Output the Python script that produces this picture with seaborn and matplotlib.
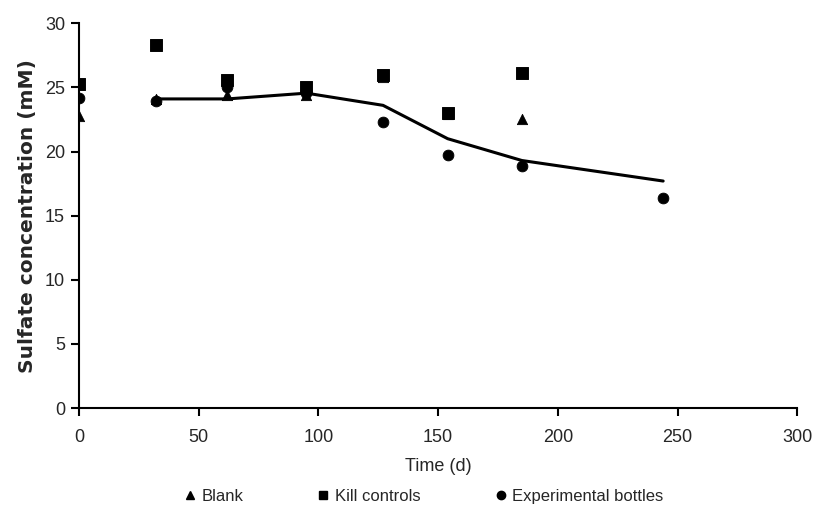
import matplotlib
matplotlib.use("Agg")
import matplotlib.pyplot as plt
import seaborn as sns
import pandas as pd
from matplotlib.lines import Line2D

# Data
blank_x = [0, 32, 62, 95, 127, 154, 185]
blank_y = [22.8, 24.1, 24.4, 24.4, 25.8, 22.9, 22.5]
kill_x = [0, 32, 62, 95, 127, 154, 185]
kill_y = [25.3, 28.3, 25.6, 25.0, 26.0, 23.0, 26.1]
exp_x = [0, 32, 62, 95, 127, 154, 185, 244]
exp_y = [24.2, 23.9, 25.0, 24.6, 22.3, 19.7, 18.9, 16.4]
trend_x = [32, 62, 95, 127, 154, 185, 244]
trend_y = [24.1, 24.1, 24.55, 23.6, 21.0, 19.3, 17.7]

x_ticks = [0, 50, 100, 150, 200, 250, 300]
y_ticks = [0, 5, 10, 15, 20, 25, 30]

sns.set_theme(style="white")
plt.rcParams['font.family'] = ['Liberation Sans Narrow', 'Liberation Sans', 'DejaVu Sans']

fig = plt.figure(figsize=(8.27, 5.16), dpi=100)
ax = fig.add_axes([0.0955, 0.209, 0.8685, 0.746])

sns.lineplot(x=trend_x, y=trend_y, ax=ax, color='black', linewidth=2.2, sort=False)
sns.scatterplot(x=blank_x, y=blank_y, ax=ax, marker='^', s=55, color='black', edgecolor='black', zorder=3)
sns.scatterplot(x=kill_x, y=kill_y, ax=ax, marker='s', s=70, color='black', edgecolor='black', zorder=3)
sns.scatterplot(x=exp_x, y=exp_y, ax=ax, marker='o', s=60, color='black', edgecolor='black', zorder=4)

ax.set_xlim(0, 300)
ax.set_ylim(0, 30)
ax.set_xticks(x_ticks)
ax.set_yticks(y_ticks)
ax.set_xticklabels([str(t) for t in x_ticks], fontsize=13)
ax.set_yticklabels([str(t) for t in y_ticks], fontsize=13)
for s in ['top', 'right']:
    ax.spines[s].set_visible(False)
for s in ['left', 'bottom']:
    ax.spines[s].set_color('black')
    ax.spines[s].set_linewidth(1.5)
ax.tick_params(axis='both', direction='out', length=6, width=1.5, color='black', bottom=True, left=True, pad=4)
ax.tick_params(axis='x', pad=9)
ax.set_xlabel('Time (d)', fontsize=13, labelpad=9)
ax.set_ylabel('Sulfate concentration (mM)', fontsize=14.5, fontweight='bold', family=['DejaVu Sans'], labelpad=6)

handles = [
    Line2D([], [], marker='^', color='black', linestyle='None', markersize=6),
    Line2D([], [], marker='s', color='black', linestyle='None', markersize=6),
    Line2D([], [], marker='o', color='black', linestyle='None', markersize=6),
]
fig.legend(handles, ['Blank', 'Kill controls', 'Experimental bottles'], loc='lower center',
           bbox_to_anchor=(0.511, -0.005), ncol=3, frameon=False, fontsize=12,
           handletextpad=0.2, columnspacing=4.3, handlelength=1.0)

fig.savefig('out.png', dpi=100, facecolor='white')
